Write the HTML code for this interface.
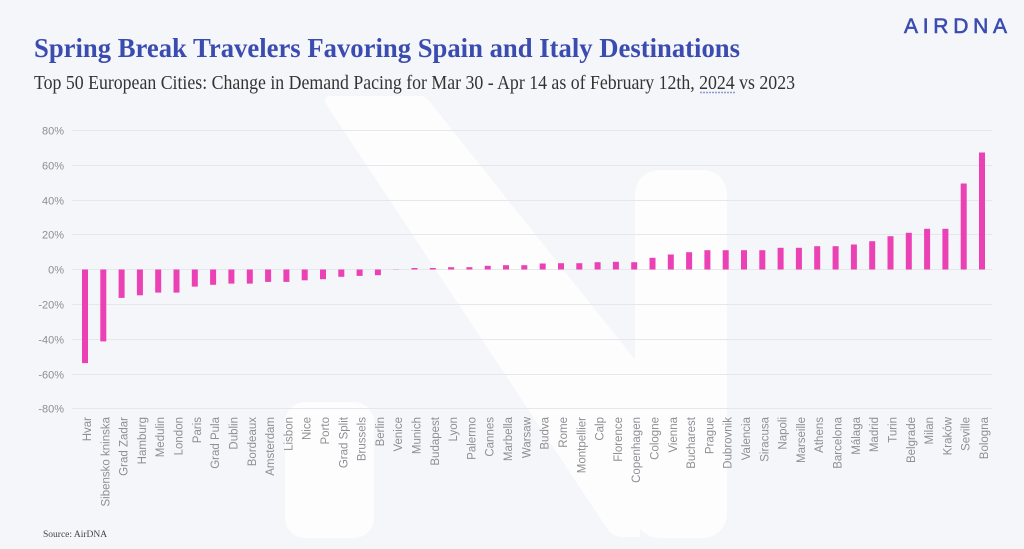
<!DOCTYPE html>
<html>
<head>
<meta charset="utf-8">
<style>
  html, body { margin:0; padding:0; background:#f5f6f9; }
  body { width:1024px; height:549px; overflow:hidden; }
  svg { display:block; }
</style>
</head>
<body>
<svg width="1024" height="549" viewBox="0 0 1024 549" xmlns="http://www.w3.org/2000/svg">
  <rect x="0" y="0" width="1024" height="549" fill="#f5f6f9"/>

  <!-- watermark N -->
  <g fill="#fdfdfe">
    <path d="M 330 96 L 420 96 Q 426 96 430 102 L 640 366 L 640 537 L 622 537 Q 612 537 606 527 L 326 104 Q 323 96 330 96 Z"/>
    <rect x="635" y="170" width="92" height="368" rx="24" ry="24"/>
    <rect x="285" y="402" width="89" height="136" rx="20" ry="20"/>
  </g>

  <!-- Title -->
  <text x="34" y="57" font-family="'Liberation Serif', serif" font-weight="bold" font-size="27" fill="#3b4cb0" textLength="706" lengthAdjust="spacingAndGlyphs">Spring Break Travelers Favoring Spain and Italy Destinations</text>
  <text x="34" y="89" font-family="'Liberation Serif', serif" font-size="19.5" fill="#333333" textLength="761" lengthAdjust="spacingAndGlyphs">Top 50 European Cities: Change in Demand Pacing for Mar 30 - Apr 14 as of February 12th, 2024 vs 2023</text>
  <line x1="700" y1="92.5" x2="736" y2="92.5" stroke="#8b9ad6" stroke-width="1.6" stroke-dasharray="2 1"/>

  <!-- Logo -->
  <text x="904" y="33" font-family="'Liberation Sans', sans-serif" font-size="21" fill="#3b4cb0" stroke="#3b4cb0" stroke-width="0.6" textLength="103" lengthAdjust="spacing">AIRDNA</text>

  <!-- gridlines -->
  <g stroke="#e6e7ec" stroke-width="1">
    <line x1="72" y1="130.5" x2="992" y2="130.5"/>
    <line x1="72" y1="165.5" x2="992" y2="165.5"/>
    <line x1="72" y1="200.5" x2="992" y2="200.5"/>
    <line x1="72" y1="234.5" x2="992" y2="234.5"/>
    <line x1="72" y1="269.5" x2="992" y2="269.5"/>
    <line x1="72" y1="304.5" x2="992" y2="304.5"/>
    <line x1="72" y1="339.5" x2="992" y2="339.5"/>
    <line x1="72" y1="374.5" x2="992" y2="374.5"/>
    <line x1="72" y1="408.5" x2="992" y2="408.5"/>
  </g>

  <!-- y tick labels -->
  <g font-family="'Liberation Sans', sans-serif" font-size="11" fill="#8e8e93" text-anchor="end">
    <text x="64" y="134.5">80%</text>
    <text x="64" y="169.5">60%</text>
    <text x="64" y="204.5">40%</text>
    <text x="64" y="238.5">20%</text>
    <text x="64" y="273.5">0%</text>
    <text x="64" y="308.5">-20%</text>
    <text x="64" y="343.5">-40%</text>
    <text x="64" y="378.5">-60%</text>
    <text x="64" y="412.5">-80%</text>
  </g>

  <!-- bars -->
  <g fill="#ec40b5">
    <rect x="82.0" y="269.5" width="6" height="93.6"/>
    <rect x="100.3" y="269.5" width="6" height="71.9"/>
    <rect x="118.6" y="269.5" width="6" height="28.4"/>
    <rect x="136.9" y="269.5" width="6" height="25.8"/>
    <rect x="155.2" y="269.5" width="6" height="23.1"/>
    <rect x="173.5" y="269.5" width="6" height="23.1"/>
    <rect x="191.8" y="269.5" width="6" height="17.1"/>
    <rect x="210.1" y="269.5" width="6" height="15.3"/>
    <rect x="228.4" y="269.5" width="6" height="14.1"/>
    <rect x="246.8" y="269.5" width="6" height="14.1"/>
    <rect x="265.1" y="269.5" width="6" height="12.4"/>
    <rect x="283.4" y="269.5" width="6" height="12.4"/>
    <rect x="301.7" y="269.5" width="6" height="10.8"/>
    <rect x="320.0" y="269.5" width="6" height="9.7"/>
    <rect x="338.3" y="269.5" width="6" height="7.3"/>
    <rect x="356.6" y="269.5" width="6" height="6.4"/>
    <rect x="374.9" y="269.5" width="6" height="5.7"/>
    <rect x="393.2" y="269.3" width="6" height="0.5" opacity="0.4"/>
    <rect x="411.5" y="268.0" width="6" height="1.5"/>
    <rect x="429.8" y="268.0" width="6" height="1.5"/>
    <rect x="448.1" y="267.2" width="6" height="2.3"/>
    <rect x="466.4" y="267.2" width="6" height="2.3"/>
    <rect x="484.7" y="265.8" width="6" height="3.7"/>
    <rect x="503.0" y="265.2" width="6" height="4.3"/>
    <rect x="521.3" y="265.2" width="6" height="4.3"/>
    <rect x="539.7" y="263.5" width="6" height="6.0"/>
    <rect x="558.0" y="263.2" width="6" height="6.3"/>
    <rect x="576.3" y="263.2" width="6" height="6.3"/>
    <rect x="594.6" y="262.2" width="6" height="7.3"/>
    <rect x="612.9" y="261.8" width="6" height="7.7"/>
    <rect x="631.2" y="262.2" width="6" height="7.3"/>
    <rect x="649.5" y="257.8" width="6" height="11.7"/>
    <rect x="667.8" y="254.5" width="6" height="15.0"/>
    <rect x="686.1" y="252.2" width="6" height="17.3"/>
    <rect x="704.4" y="250.2" width="6" height="19.3"/>
    <rect x="722.7" y="250.2" width="6" height="19.3"/>
    <rect x="741.0" y="250.2" width="6" height="19.3"/>
    <rect x="759.3" y="250.2" width="6" height="19.3"/>
    <rect x="777.6" y="247.8" width="6" height="21.7"/>
    <rect x="795.9" y="247.8" width="6" height="21.7"/>
    <rect x="814.2" y="246.2" width="6" height="23.3"/>
    <rect x="832.6" y="246.2" width="6" height="23.3"/>
    <rect x="850.9" y="244.5" width="6" height="25.0"/>
    <rect x="869.2" y="241.2" width="6" height="28.3"/>
    <rect x="887.5" y="236.2" width="6" height="33.3"/>
    <rect x="905.8" y="232.8" width="6" height="36.7"/>
    <rect x="924.1" y="228.8" width="6" height="40.7"/>
    <rect x="942.4" y="228.8" width="6" height="40.7"/>
    <rect x="960.7" y="183.5" width="6" height="86.0"/>
    <rect x="979.0" y="152.5" width="6" height="117.0"/>
  </g>

  <!-- x labels -->
  <g font-family="'Liberation Sans', sans-serif" font-size="11.5" fill="#8e8e93" text-anchor="end">
    <text transform="translate(91.0,417) rotate(-90)">Hvar</text>
    <text transform="translate(109.3,417) rotate(-90)">Sibensko kninska</text>
    <text transform="translate(127.6,417) rotate(-90)">Grad Zadar</text>
    <text transform="translate(145.9,417) rotate(-90)">Hamburg</text>
    <text transform="translate(164.2,417) rotate(-90)">Medulin</text>
    <text transform="translate(182.5,417) rotate(-90)">London</text>
    <text transform="translate(200.8,417) rotate(-90)">Paris</text>
    <text transform="translate(219.1,417) rotate(-90)">Grad Pula</text>
    <text transform="translate(237.4,417) rotate(-90)">Dublin</text>
    <text transform="translate(255.8,417) rotate(-90)">Bordeaux</text>
    <text transform="translate(274.1,417) rotate(-90)">Amsterdam</text>
    <text transform="translate(292.4,417) rotate(-90)">Lisbon</text>
    <text transform="translate(310.7,417) rotate(-90)">Nice</text>
    <text transform="translate(329.0,417) rotate(-90)">Porto</text>
    <text transform="translate(347.3,417) rotate(-90)">Grad Split</text>
    <text transform="translate(365.6,417) rotate(-90)">Brussels</text>
    <text transform="translate(383.9,417) rotate(-90)">Berlin</text>
    <text transform="translate(402.2,417) rotate(-90)">Venice</text>
    <text transform="translate(420.5,417) rotate(-90)">Munich</text>
    <text transform="translate(438.8,417) rotate(-90)">Budapest</text>
    <text transform="translate(457.1,417) rotate(-90)">Lyon</text>
    <text transform="translate(475.4,417) rotate(-90)">Palermo</text>
    <text transform="translate(493.7,417) rotate(-90)">Cannes</text>
    <text transform="translate(512.0,417) rotate(-90)">Marbella</text>
    <text transform="translate(530.3,417) rotate(-90)">Warsaw</text>
    <text transform="translate(548.7,417) rotate(-90)">Budva</text>
    <text transform="translate(567.0,417) rotate(-90)">Rome</text>
    <text transform="translate(585.3,417) rotate(-90)">Montpellier</text>
    <text transform="translate(603.6,417) rotate(-90)">Calp</text>
    <text transform="translate(621.9,417) rotate(-90)">Florence</text>
    <text transform="translate(640.2,417) rotate(-90)">Copenhagen</text>
    <text transform="translate(658.5,417) rotate(-90)">Cologne</text>
    <text transform="translate(676.8,417) rotate(-90)">Vienna</text>
    <text transform="translate(695.1,417) rotate(-90)">Bucharest</text>
    <text transform="translate(713.4,417) rotate(-90)">Prague</text>
    <text transform="translate(731.7,417) rotate(-90)">Dubrovnik</text>
    <text transform="translate(750.0,417) rotate(-90)">Valencia</text>
    <text transform="translate(768.3,417) rotate(-90)">Siracusa</text>
    <text transform="translate(786.6,417) rotate(-90)">Napoli</text>
    <text transform="translate(804.9,417) rotate(-90)">Marseille</text>
    <text transform="translate(823.2,417) rotate(-90)">Athens</text>
    <text transform="translate(841.6,417) rotate(-90)">Barcelona</text>
    <text transform="translate(859.9,417) rotate(-90)">Málaga</text>
    <text transform="translate(878.2,417) rotate(-90)">Madrid</text>
    <text transform="translate(896.5,417) rotate(-90)">Turin</text>
    <text transform="translate(914.8,417) rotate(-90)">Belgrade</text>
    <text transform="translate(933.1,417) rotate(-90)">Milan</text>
    <text transform="translate(951.4,417) rotate(-90)">Kraków</text>
    <text transform="translate(969.7,417) rotate(-90)">Seville</text>
    <text transform="translate(988.0,417) rotate(-90)">Bologna</text>
  </g>

  <!-- source -->
  <text x="43" y="537" font-family="'Liberation Serif', serif" font-size="9.5" fill="#444">Source: AirDNA</text>
</svg>
</body>
</html>
